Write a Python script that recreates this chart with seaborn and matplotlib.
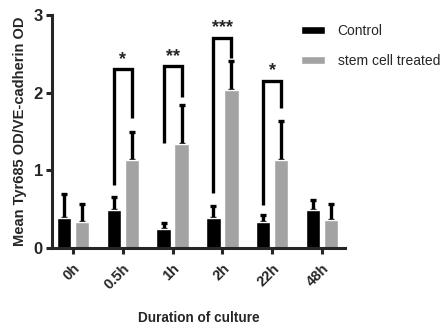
import numpy as np
import pandas as pd
import seaborn as sns
import matplotlib.pyplot as plt

# --- data ---
durations = ["0h", "0.5h", "1h", "2h", "22h", "48h"]
groups = ["Control", "stem cell treated"]
control_mean = [0.39, 0.49, 0.245, 0.39, 0.34, 0.49]
control_err = [0.30, 0.17, 0.075, 0.155, 0.08, 0.13]
treated_mean = [0.34, 1.14, 1.34, 2.04, 1.14, 0.36]
treated_err = [0.23, 0.36, 0.50, 0.37, 0.50, 0.21]

# significance brackets
sig_durations = ["0.5h", "1h", "2h", "22h"]
sig_labels = ["*", "**", "***", "*"]
sig_top = [2.30, 2.34, 2.71, 2.15]
sig_left_end = [0.81, 1.35, 0.71, 0.56]
sig_right_end = [1.67, 1.94, 2.45, 1.80]

colors = ["#000000", "#a3a3a3"]

df = pd.DataFrame({
    "duration": durations * 2,
    "group": [groups[0]] * len(durations) + [groups[1]] * len(durations),
    "value": control_mean + treated_mean,
})

sns.set_style("ticks")
plt.rcParams["font.family"] = ["Liberation Sans", "DejaVu Sans"]

fig = plt.figure(figsize=(4.46, 3.29), dpi=100)
ax = fig.add_axes([0.1166, 0.246, 0.657, 0.708])

sns.barplot(data=df, x="duration", y="value", hue="group", order=durations,
            hue_order=groups, palette=colors, width=0.72, gap=0.2,
            errorbar=None, saturation=1, ax=ax)

# upper-only error bars on each bar
centers = {}
for cont, err in zip(ax.containers, [control_err, treated_err]):
    xs = [b.get_x() + b.get_width() / 2 for b in cont]
    hs = [b.get_height() for b in cont]
    ax.errorbar(xs, hs, yerr=[np.zeros(len(err)), err], fmt="none",
                ecolor="black", elinewidth=2.4, capsize=2.5, capthick=2.4,
                zorder=0.9)
    centers[len(centers)] = dict(zip(durations, xs))

# significance brackets
for d, lab, top, lo_l, lo_r in zip(sig_durations, sig_labels, sig_top,
                                   sig_left_end, sig_right_end):
    x0, x1 = centers[0][d], centers[1][d]
    ax.plot([x0, x0, x1, x1], [lo_l, top, top, lo_r], color="black",
            lw=2.4, solid_capstyle="butt", solid_joinstyle="miter",
            clip_on=False)
    ax.text((x0 + x1) / 2, top + 0.02, lab, ha="center", va="bottom",
            fontsize=13, fontweight="bold")

ax.set_xlim(-0.42, 5.46)
ax.set_ylim(0, 3)
ax.set_yticks([0, 1, 2, 3])
ax.set_yticklabels(["0", "1", "2", "3"], fontsize=12, fontweight="bold")
ax.set_xticks(range(len(durations)))
ax.set_xticklabels(durations, fontsize=10.5, fontweight="bold", rotation=45,
                   ha="right", rotation_mode="anchor")
ax.set_xlabel("Duration of culture", fontsize=9.8, fontweight="bold",
              labelpad=14)
ax.set_ylabel("Mean Tyr685 OD/VE-cadherin OD", fontsize=10.5,
              fontweight="bold", labelpad=5)
sns.despine(ax=ax)
for s in ["left", "bottom"]:
    ax.spines[s].set_linewidth(2.2)
ax.tick_params(axis="both", width=2.2, length=4.5, pad=2)
ax.tick_params(axis="x", pad=5)

sns.move_legend(ax, "upper left", bbox_to_anchor=(0.83, 0.985), frameon=False,
                title=None, fontsize=10, handlelength=1.75, handleheight=0.5,
                handletextpad=0.9, labelspacing=1.15, borderaxespad=0)

fig.savefig("out.png", dpi=100)
